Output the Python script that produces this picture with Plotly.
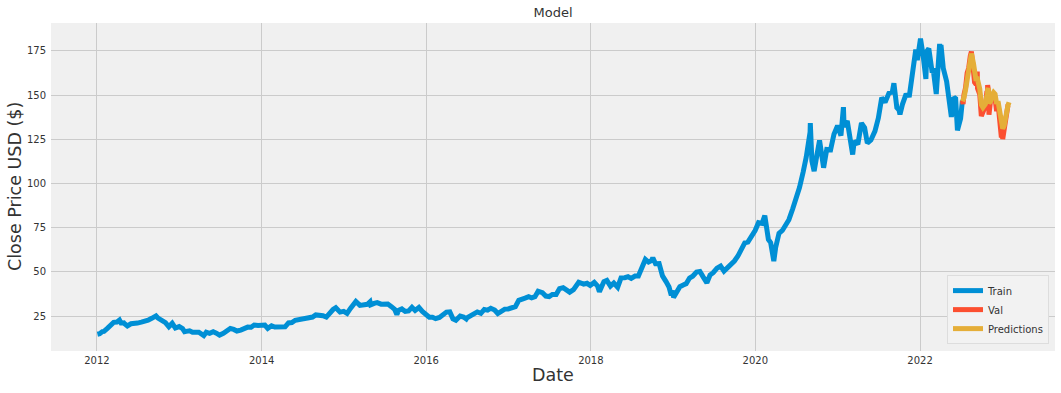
import plotly.graph_objects as go

train_dates = [
 "2012-01-03","2012-01-13","2012-01-25","2012-02-01","2012-02-15","2012-02-29","2012-03-15","2012-03-30","2012-04-10","2012-04-20","2012-04-25","2012-04-30",
 "2012-05-15","2012-05-31","2012-06-15","2012-06-29","2012-07-16","2012-07-31","2012-08-15","2012-08-31","2012-09-19","2012-09-28","2012-10-15","2012-10-31",
 "2012-11-15","2012-11-30","2012-12-14","2012-12-31",
 "2013-01-15","2013-01-24","2013-01-31","2013-02-15","2013-02-28","2013-03-15","2013-03-28","2013-04-19","2013-04-30","2013-05-15","2013-05-31",
 "2013-06-14","2013-06-28","2013-07-15","2013-07-31","2013-08-15","2013-08-30","2013-09-13","2013-09-30","2013-10-15","2013-10-31","2013-11-15","2013-11-29",
 "2013-12-16","2013-12-31",
 "2014-01-15","2014-01-28","2014-02-14","2014-02-28","2014-03-14","2014-03-31","2014-04-15","2014-04-30","2014-05-15","2014-05-30","2014-06-16","2014-06-30",
 "2014-07-15","2014-07-31","2014-08-15","2014-08-29","2014-09-15","2014-09-30","2014-10-15","2014-10-31","2014-11-14","2014-11-26","2014-12-15","2014-12-31",
 "2015-01-15","2015-01-30","2015-02-13","2015-02-23","2015-03-13","2015-03-31","2015-04-15","2015-04-27","2015-04-30","2015-05-15","2015-05-29",
 "2015-06-15","2015-06-30","2015-07-15","2015-07-31","2015-08-14","2015-08-24","2015-08-31","2015-09-15","2015-09-30","2015-10-15","2015-10-30",
 "2015-11-13","2015-11-30","2015-12-15","2015-12-31",
 "2016-01-15","2016-01-29","2016-02-12","2016-02-29","2016-03-15","2016-03-31","2016-04-15","2016-04-29","2016-05-12","2016-05-31","2016-06-15","2016-06-27",
 "2016-06-30","2016-07-15","2016-07-29","2016-08-15","2016-08-31","2016-09-15","2016-09-30","2016-10-14","2016-10-31","2016-11-14","2016-11-30","2016-12-15","2016-12-30",
 "2017-01-13","2017-01-31","2017-02-15","2017-02-28","2017-03-15","2017-03-31","2017-04-13","2017-04-28","2017-05-12","2017-05-31","2017-06-15","2017-06-30",
 "2017-07-14","2017-07-31","2017-08-15","2017-08-31","2017-09-15","2017-09-29","2017-10-16","2017-10-31","2017-11-08","2017-11-30","2017-12-15","2017-12-29",
 "2018-01-16","2018-01-31","2018-02-08","2018-02-28","2018-03-13","2018-03-29","2018-04-13","2018-04-30","2018-05-15","2018-05-31","2018-06-15","2018-06-29",
 "2018-07-16","2018-07-31","2018-08-15","2018-08-31","2018-09-14","2018-09-28","2018-10-03","2018-10-15","2018-10-31","2018-11-15","2018-11-30",
 "2018-12-14","2018-12-24","2018-12-31",
 "2019-01-03","2019-01-15","2019-01-31","2019-02-15","2019-02-28","2019-03-15","2019-03-29","2019-04-15","2019-04-30","2019-05-15","2019-05-31",
 "2019-06-14","2019-06-28","2019-07-15","2019-07-31","2019-08-15","2019-08-30","2019-09-13","2019-09-30","2019-10-15","2019-10-31","2019-11-15","2019-11-29",
 "2019-12-16","2019-12-31",
 "2020-01-15","2020-01-31","2020-02-12","2020-02-28","2020-03-09","2020-03-16","2020-03-23","2020-03-31","2020-04-15","2020-04-30","2020-05-15","2020-05-29",
 "2020-06-15","2020-06-30","2020-07-15","2020-07-31","2020-08-14","2020-08-31","2020-09-01","2020-09-08","2020-09-18","2020-09-30","2020-10-12","2020-10-30",
 "2020-11-13","2020-11-30","2020-12-15","2020-12-31",
 "2021-01-15","2021-01-26","2021-01-29","2021-02-12","2021-02-26","2021-03-08","2021-03-15","2021-03-31","2021-04-16","2021-04-30","2021-05-12","2021-05-28",
 "2021-06-15","2021-06-30","2021-07-15","2021-07-30","2021-08-16","2021-08-31","2021-09-07","2021-09-20","2021-09-30","2021-10-04","2021-10-15","2021-10-29",
 "2021-11-15","2021-11-30","2021-12-13","2021-12-20","2021-12-31",
 "2022-01-03","2022-01-14","2022-01-27","2022-01-31","2022-02-09","2022-02-24","2022-02-28","2022-03-14","2022-03-29","2022-03-31","2022-04-04","2022-04-14",
 "2022-04-29","2022-05-11","2022-05-20","2022-05-31","2022-06-08","2022-06-16","2022-06-30","2022-07-08",
]
train_close = [
 14.7,15.0,16.2,16.3,17.9,19.4,21.4,21.6,22.7,20.3,21.8,20.9,
 19.4,20.6,20.5,21.0,21.5,21.8,22.6,23.7,25.1,23.8,22.5,21.2,
 18.9,20.9,18.2,19.0,
 17.9,16.1,16.3,16.6,15.8,15.8,15.8,13.9,15.8,15.2,16.1,
 15.3,14.2,15.2,16.2,17.9,17.4,16.5,17.0,17.9,18.7,18.6,19.9,
 19.7,20.0,
 19.9,18.0,19.5,18.8,18.9,19.2,18.9,21.1,21.3,22.6,23.1,23.2,
 23.8,23.8,24.4,25.6,25.5,25.2,24.4,27.0,28.7,29.7,27.2,27.6,
 26.5,29.3,31.9,33.2,31.0,31.1,31.6,33.0,31.3,32.1,32.6,
 31.7,31.4,31.8,30.3,28.8,25.8,28.2,29.0,27.6,27.9,29.9,
 28.1,29.8,27.6,26.3,
 24.3,24.3,23.5,24.2,26.0,27.2,27.3,23.4,22.6,25.0,24.4,23.3,
 23.9,24.7,26.05,27.3,26.5,28.7,28.3,29.4,28.4,26.4,27.6,28.9,29.0,
 29.8,30.3,33.9,34.2,35.1,35.9,35.3,35.9,39.0,38.2,36.3,36.0,
 37.2,37.2,40.5,41.0,39.7,38.5,39.9,42.3,44.1,43.0,43.5,42.3,
 44.0,41.9,38.8,44.5,45.2,41.9,43.7,41.3,46.6,46.7,47.2,46.3,
 47.6,47.6,52.6,57.0,55.5,56.4,58.0,54.6,54.7,47.7,44.6,
 41.4,36.7,39.4,
 35.5,38.3,41.6,42.6,43.3,46.5,47.5,49.9,50.2,47.0,43.8,
 48.2,49.5,52.1,53.3,50.4,52.2,54.7,56.1,58.8,62.2,66.4,66.8,
 69.9,73.4,
 77.8,77.4,81.8,68.3,66.5,60.6,56.1,63.6,71.8,73.4,76.9,79.5,
 85.7,91.2,97.7,106.3,114.9,129.0,134.2,112.8,107.0,115.8,124.4,108.9,
 119.3,119.1,127.9,132.7,
 127.1,143.2,132.0,135.4,121.3,116.4,124.0,122.2,134.2,131.5,122.8,124.6,
 129.6,137.0,148.5,145.9,151.1,151.8,156.7,142.9,141.5,139.1,144.8,149.8,
 150.0,165.3,175.7,169.8,177.6,
 182.0,173.1,159.2,174.8,176.3,162.7,165.1,150.6,179.0,174.6,178.4,165.3,
 157.7,146.5,137.6,148.8,148.0,130.1,136.7,147.0,
]

val_dates = [
 "2022-07-08","2022-07-11","2022-07-15","2022-07-22","2022-07-29","2022-08-05","2022-08-12","2022-08-17","2022-08-26","2022-08-31",
 "2022-09-07","2022-09-12","2022-09-13","2022-09-23","2022-09-30","2022-10-07","2022-10-13","2022-10-18","2022-10-25","2022-10-27",
 "2022-10-28","2022-10-31","2022-11-03","2022-11-10","2022-11-16","2022-11-23","2022-11-30","2022-12-07","2022-12-13","2022-12-22",
 "2022-12-28","2022-12-30","2023-01-03","2023-01-09","2023-01-13","2023-01-20","2023-01-26","2023-01-31",
]
val_close = [
 147.0,144.9,150.2,154.1,162.5,165.4,172.1,174.6,163.6,157.2,
 156.0,163.4,153.8,150.4,138.2,140.1,143.0,143.8,152.3,144.8,
 155.7,153.3,138.9,146.9,148.8,151.1,148.0,140.9,145.5,132.2,
 126.0,129.9,125.1,130.2,134.8,137.9,144.0,144.3,
]
predictions = [
 146.5,147.5,148.5,153.0,159.0,164.5,169.5,173.5,168.0,161.5,
 158.0,160.5,159.0,153.5,144.5,143.0,144.5,145.0,150.0,149.5,
 153.0,154.0,145.5,146.5,150.0,151.5,150.5,145.0,146.5,138.5,
 132.5,132.0,131.0,132.5,136.0,139.5,144.0,146.0,
]

y_ticks = [25, 50, 75, 100, 125, 150, 175]
x_ticks = ["2012-01-01","2014-01-01","2016-01-01","2018-01-01","2020-01-01","2022-01-01"]
x_tick_text = ["2012","2014","2016","2018","2020","2022"]

fig = go.Figure()
fig.add_trace(go.Scatter(x=train_dates, y=train_close, mode="lines", name="Train",
                         line=dict(color="#008fd5", width=5)))
fig.add_trace(go.Scatter(x=val_dates, y=val_close, mode="lines", name="Val",
                         line=dict(color="#fc4f30", width=5)))
fig.add_trace(go.Scatter(x=val_dates, y=predictions, mode="lines", name="Predictions",
                         line=dict(color="#e5ae38", width=5)))

font = "DejaVu Sans"
fig.update_layout(
    width=1061, height=393,
    margin=dict(l=51, r=6, t=23, b=42, autoexpand=False),
    paper_bgcolor="white", plot_bgcolor="#f0f0f0",
    font=dict(family=font, size=10, color="#333333"),
    title=dict(text="Model", x=0.5, xanchor="center", xref="paper",
               y=1 - 12 / 393, yref="container", yanchor="middle",
               font=dict(size=13, color="#333333")),
    showlegend=True,
    legend=dict(x=0.994, y=0.021, xanchor="right", yanchor="bottom",
                bgcolor="#f2f2f2", bordercolor="#dddddd", borderwidth=1,
                font=dict(size=10, color="#333333"), tracegroupgap=0, itemwidth=30),
    xaxis=dict(type="date", range=["2011-06-11", "2023-08-23"],
               tickvals=x_ticks, ticktext=x_tick_text, automargin=False,
               showgrid=True, gridcolor="#cbcbcb", gridwidth=1, zeroline=False,
               showline=False, ticks="", ticklabelstandoff=2,
               tickfont=dict(size=10, color="#333333")),
    yaxis=dict(range=[5.2, 190.8], tickvals=y_ticks, automargin=False,
               showgrid=True, gridcolor="#cbcbcb", gridwidth=1, zeroline=False,
               showline=False, ticks="", ticklabelstandoff=4,
               tickfont=dict(size=10, color="#333333")),
    annotations=[
        dict(text="Date", xref="paper", yref="paper", x=0.5, y=0, yshift=-24,
             xanchor="center", yanchor="middle", showarrow=False,
             font=dict(size=17.5, color="#333333")),
        dict(text="Close Price USD ($)", xref="paper", yref="paper", x=0, xshift=-36,
             y=0.5, xanchor="center", yanchor="middle", textangle=-90, showarrow=False,
             font=dict(size=17.5, color="#333333")),
    ],
)

fig.write_html("out.html", config={"displayModeBar": False},
               post_script="document.body.style.margin='0';document.body.style.padding='0';")
